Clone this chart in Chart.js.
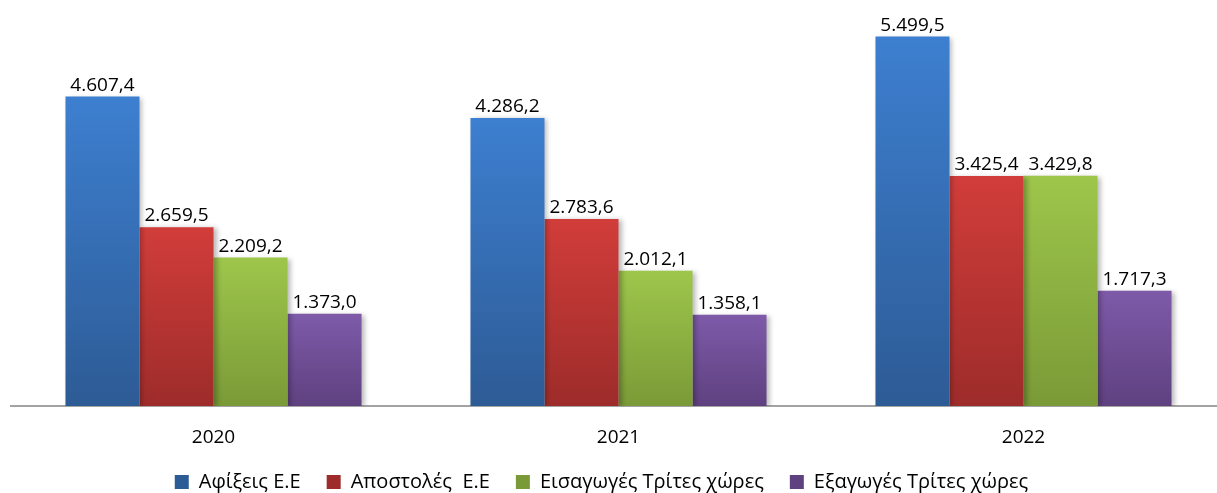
<!DOCTYPE html>
<html>
<head>
<meta charset="utf-8">
<script src="https://cdn.jsdelivr.net/npm/chart.js@4/dist/chart.umd.min.js"></script>
<style>
  html, body { margin: 0; padding: 0; background: #fff; overflow: hidden; }
  #wrap { width: 1217px; height: 493px; overflow: hidden; position: relative; }
  canvas { display: block; }
</style>
</head>
<body>
<div id="wrap"><canvas id="chart" width="1232" height="502"></canvas></div>
<script>
const years = ['2020', '2021', '2022'];
const arrivalsEU = [4607.4, 4286.2, 5499.5];
const dispatchesEU = [2659.5, 2783.6, 3425.4];
const importsThird = [2209.2, 2012.1, 3429.8];
const exportsThird = [1373.0, 1358.1, 1717.3];

const seriesNames = ['Αφίξεις Ε.Ε', 'Αποστολές  Ε.Ε', 'Εισαγωγές Τρίτες χώρες', 'Εξαγωγές Τρίτες χώρες'];

// top / bottom colour of each bar gradient
const shades = [
  ['#3d7fd0', '#2d5b95'],
  ['#d13d3a', '#9d2c2a'],
  ['#9ec64b', '#7a9a37'],
  ['#7e5aa9', '#5f4180']
];

const FONT = "'Open Sans', sans-serif";

function greekNumber(v) {
  let [intPart, dec] = v.toFixed(1).split('.');
  intPart = intPart.replace(/\B(?=(\d{3})+(?!\d))/g, '.');
  return intPart + ',' + dec;
}

function barFill(i) {
  return function(ctx) {
    const chart = ctx.chart;
    const area = chart.chartArea;
    if (!area || ctx.raw === undefined) return shades[i][0];
    const top = chart.scales.y.getPixelForValue(ctx.raw);
    const g = chart.ctx.createLinearGradient(0, top, 0, area.bottom);
    g.addColorStop(0, shades[i][0]);
    g.addColorStop(1, shades[i][1]);
    return g;
  };
}

// shadow behind bars + value labels on top
const barExtras = {
  id: 'barExtras',
  afterLayout(chart) {
    // legend sits a bit left of the (clipped) plot centre
    chart.legend.left -= 17;
    chart.legend.right -= 17;
  },
  beforeDatasetsDraw(chart) {
    const c = chart.ctx;
    c.save();
    c.shadowColor = 'rgba(0,0,0,0.28)';
    c.shadowBlur = 5;
    c.shadowOffsetX = 3;
    c.shadowOffsetY = 1;
  },
  afterDatasetsDraw(chart) {
    const c = chart.ctx;
    c.restore();
    c.save();
    c.font = '19px ' + FONT;
    c.fillStyle = '#000';
    c.textAlign = 'center';
    c.textBaseline = 'alphabetic';
    chart.data.datasets.forEach((ds, i) => {
      chart.getDatasetMeta(i).data.forEach((bar, j) => {
        c.fillText(greekNumber(ds.data[j]), bar.x, bar.y - 6);
      });
    });
    c.restore();
  }
};

const allSeries = [arrivalsEU, dispatchesEU, importsThird, exportsThird];

new Chart(document.getElementById('chart'), {
  type: 'bar',
  data: {
    labels: years,
    datasets: allSeries.map((d, i) => ({
      label: seriesNames[i],
      data: d,
      backgroundColor: barFill(i),
      borderWidth: 0,
      barPercentage: 1.0,
      categoryPercentage: 0.731
    }))
  },
  options: {
    responsive: false,
    animation: false,
    layout: { padding: { left: 11, right: 6, top: 3, bottom: 0 } },
    scales: {
      x: {
        grid: { display: false, drawTicks: false },
        border: { display: true, color: '#a3a3a3', width: 2 },
        ticks: { color: '#000', font: { family: FONT, size: 19 }, padding: 20 },
        afterFit(scale) { scale.height = 40; }
      },
      y: {
        display: false,
        min: 0,
        max: 6000
      }
    },
    plugins: {
      legend: {
        position: 'bottom',
        labels: {
          boxWidth: 14,
          boxHeight: 14,
          padding: 26,
          color: '#000',
          font: { family: FONT, size: 20 }
        }
      },
      tooltip: { enabled: false }
    }
  },
  plugins: [barExtras]
});
</script>
</body>
</html>
